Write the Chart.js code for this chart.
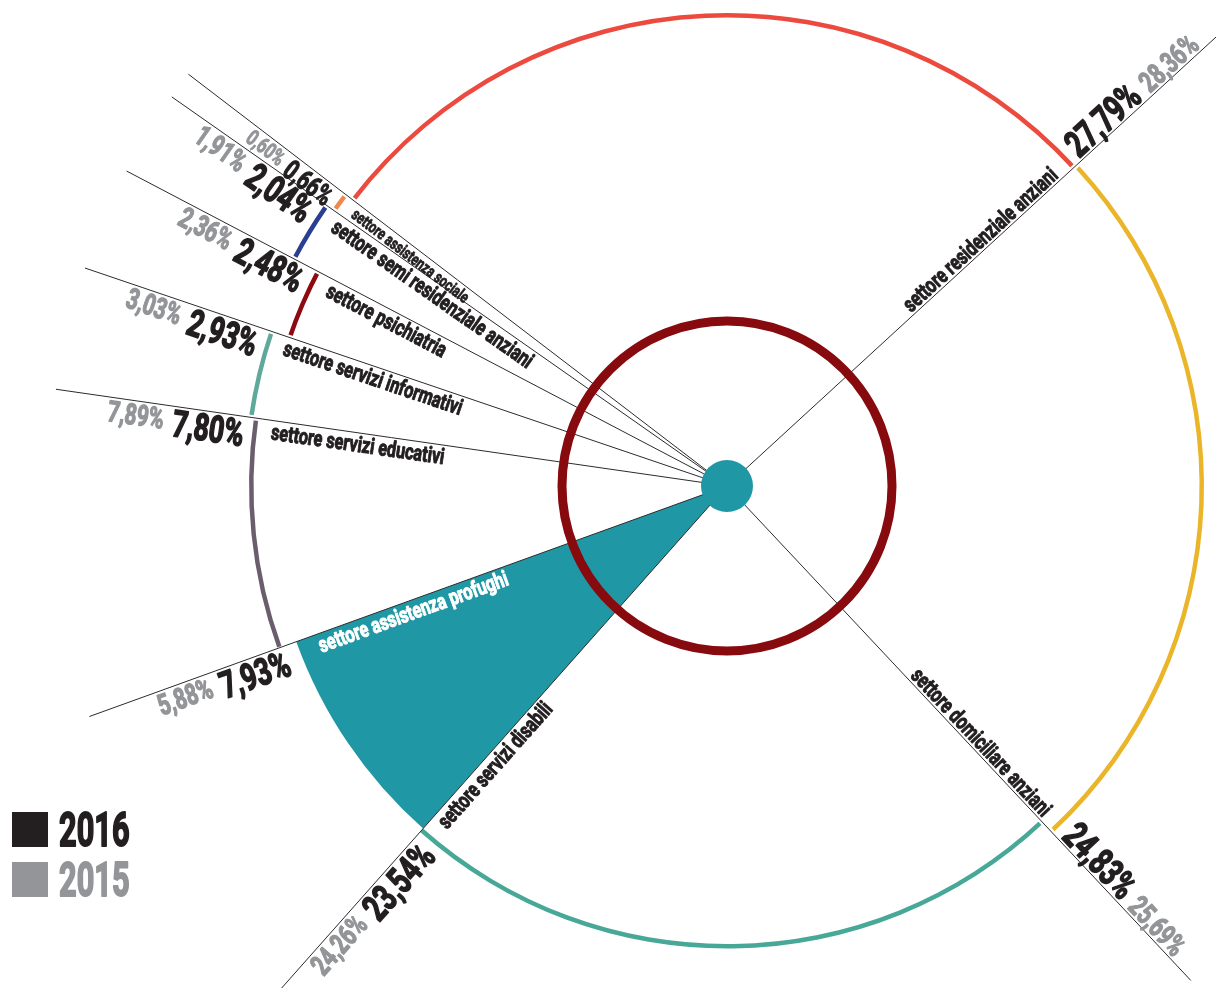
<!DOCTYPE html>
<html lang="it">
<head>
<meta charset="utf-8">
<title>Settori di attività 2016 / 2015</title>
<script src="https://cdn.jsdelivr.net/npm/chart.js@4.4.1/dist/chart.umd.min.js"></script>
<style>
    html, body { margin: 0; padding: 0; background: #ffffff; }
    #wrap { width: 1216px; height: 988px; position: relative; }
</style>
</head>
<body>
<div id="wrap"><canvas id="chart" width="1216" height="988"></canvas></div>
<script>
// sectors, clockwise starting from the top-left boundary
const sectorNames = [
    "settore residenziale anziani",
    "settore domiciliare anziani",
    "settore servizi disabili",
    "settore assistenza profughi",
    "settore servizi educativi",
    "settore servizi informativi",
    "settore psichiatria",
    "settore semi residenziale anziani",
    "settore assistenza sociale"
];
const share2016 = [27.79, 24.83, 23.54, 7.93, 7.80, 2.93, 2.48, 2.04, 0.66];
const share2015 = [28.36, 25.69, 24.26, 5.88, 7.89, 3.03, 2.36, 1.91, 0.60];
const yearLabels = ["2016", "2015"];

const sectorColors = ["#ec4a3f", "#ebb52a", "#48a898", "#1f97a4", "#6b5d6d", "#61a89c", "#8c0a10", "#2a3f91", "#f0874e"];
const yearColors = ["#231f20", "#939598"];
// small radial nudge of each outer arc (px), purely visual
const arcShift = [0, 4, 0, 0, 5, 10, -9, 18, 9];
const DISABILI = 2;
const PROFUGHI = 3;
const CLEAR = "rgba(0,0,0,0)";
const fontFamily = 'Roboto, "Liberation Sans", sans-serif';

function fmt(v) {
    return v.toFixed(2).replace(".", ",") + "%";
}

// Chart.js moves an arc by offset/4 and also grows its radius by (offset/4)*fix
function arcOffset(i) {
    const circ = share2016[i] / 100 * Math.PI * 2;
    const fix = 1 - Math.sin(Math.min(Math.PI, circ));
    return 4 * arcShift[i] / (1 + fix);
}

// condensed heavy text: squeeze horizontally and thicken with a thin stroke
function heavyText(ctx, text, color, sx, bold) {
    ctx.scale(sx, 1);
    ctx.fillStyle = color;
    ctx.strokeStyle = color;
    ctx.lineWidth = bold;
    ctx.lineJoin = "round";
    ctx.textAlign = "left";
    ctx.textBaseline = "alphabetic";
    ctx.fillText(text, 0, 0);
    ctx.strokeText(text, 0, 0);
}

// draw text along a ray from the centre; it occupies radii r..r+w (dir 1) or r-w..r (dir -1)
function textOnRay(ctx, p) {
    ctx.font = "bold " + p.size + "px " + fontFamily;
    const w = ctx.measureText(p.text).width * p.sx;
    const rA = p.dir > 0 ? p.r : p.r - w;
    const rB = rA + w;
    const flip = Math.cos(p.ang) < 0;
    ctx.save();
    ctx.translate(p.x, p.y);
    ctx.rotate(flip ? p.ang + Math.PI : p.ang);
    if (!flip) {
        ctx.translate(rA, -p.gap);
    } else {
        ctx.translate(-rB, p.gap + p.size * 0.72);
    }
    heavyText(ctx, p.text, p.color, p.sx, p.size / 22);
    ctx.restore();
    return w;
}

const sectorDecor = {
    id: "sectorDecor",
    afterDatasetsDraw(chart) {
        const ctx = chart.ctx;
        const ring = chart.getDatasetMeta(0).data;
        const inner = chart.getDatasetMeta(2).data;
        const wedge = chart.getDatasetMeta(3).data;
        const cx = ring[0].x;
        const cy = ring[0].y;
        const ringMid = (ring[0].outerRadius + ring[0].innerRadius) / 2;
        const innerMid = (inner[0].outerRadius + inner[0].innerRadius) / 2;
        const wedgeR = wedge[0].outerRadius;
        const arcR = i => (i === DISABILI ? innerMid : ringMid) + arcShift[i];

        // white gaps between neighbouring arcs
        ctx.save();
        ctx.strokeStyle = "#ffffff";
        ctx.lineWidth = 5;
        ring.forEach((arc, i) => {
            const prev = (i + ring.length - 1) % ring.length;
            if (i === PROFUGHI || prev === PROFUGHI) return;
            const r0 = Math.min(arcR(i), arcR(prev)) - 6;
            const r1 = Math.max(arcR(i), arcR(prev)) + 6;
            const a = arc.startAngle;
            ctx.beginPath();
            ctx.moveTo(cx + Math.cos(a) * r0, cy + Math.sin(a) * r0);
            ctx.lineTo(cx + Math.cos(a) * r1, cy + Math.sin(a) * r1);
            ctx.stroke();
        });

        // boundary lines
        ctx.strokeStyle = "#2b2b2b";
        ctx.lineWidth = 1;
        ring.forEach(arc => {
            const a = arc.startAngle;
            ctx.beginPath();
            ctx.moveTo(cx, cy);
            ctx.lineTo(cx + Math.cos(a) * 678, cy + Math.sin(a) * 678);
            ctx.stroke();
        });
        ctx.restore();

        // labels along the closing edge of every sector
        ring.forEach((arc, i) => {
            const f = share2016[i] < 1 ? 0.75 : 1;
            const a = arc.endAngle;
            const rName = i === PROFUGHI ? wedgeR - 20 : arcR(i) - 17;
            textOnRay(ctx, {
                x: cx, y: cy, ang: a, r: rName, dir: -1, text: sectorNames[i],
                size: 22 * f, sx: 0.74, gap: 3,
                color: i === PROFUGHI ? "#ffffff" : yearColors[0]
            });
            const rVal = i === PROFUGHI ? wedgeR + 14 : arcR(i) + 10;
            const wB = textOnRay(ctx, {
                x: cx, y: cy, ang: a, r: rVal, dir: 1, text: fmt(share2016[i]),
                size: 37 * f, sx: 0.72, gap: 3, color: yearColors[0]
            });
            textOnRay(ctx, {
                x: cx, y: cy, ang: a, r: rVal + wB + 9 * f, dir: 1, text: fmt(share2015[i]),
                size: 29 * f, sx: 0.72, gap: 3, color: yearColors[1]
            });
        });

        // inner ring and centre dot
        ctx.save();
        ctx.beginPath();
        ctx.arc(cx, cy, 165, 0, Math.PI * 2);
        ctx.lineWidth = 9;
        ctx.strokeStyle = "#870a0e";
        ctx.stroke();
        ctx.beginPath();
        ctx.arc(cx, cy, 26, 0, Math.PI * 2);
        ctx.fillStyle = sectorColors[PROFUGHI];
        ctx.fill();
        ctx.restore();

        // year legend
        yearLabels.forEach((year, k) => {
            const top = 812 + k * 50;
            ctx.save();
            ctx.fillStyle = yearColors[k];
            ctx.fillRect(12, top, 36, 35);
            ctx.font = "bold 48px " + fontFamily;
            ctx.translate(59, top + 34);
            heavyText(ctx, year, yearColors[k], 0.64, 2);
            ctx.restore();
        });
    }
};

const ringColors = sectorColors.map((c, i) => (i === DISABILI || i === PROFUGHI) ? CLEAR : c);
const innerColors = sectorColors.map((c, i) => i === DISABILI ? c : CLEAR);
const wedgeColors = sectorColors.map((c, i) => i === PROFUGHI ? c : CLEAR);

new Chart(document.getElementById("chart"), {
    type: "doughnut",
    data: {
        labels: sectorNames,
        datasets: [
            {
                label: "2016",
                data: share2016,
                backgroundColor: ringColors,
                offset: share2016.map((v, i) => arcOffset(i)),
                hoverOffset: 0,
                borderWidth: 0,
                weight: 4.5
            },
            {
                data: share2016,
                backgroundColor: CLEAR,
                hoverOffset: 0,
                borderWidth: 0,
                weight: 6
            },
            {
                data: share2016,
                backgroundColor: innerColors,
                hoverOffset: 0,
                borderWidth: 0,
                weight: 4.5
            },
            {
                data: share2016,
                backgroundColor: wedgeColors,
                hoverOffset: 0,
                borderWidth: 0,
                weight: 458
            }
        ]
    },
    options: {
        responsive: false,
        animation: false,
        events: [],
        rotation: -52.6,
        cutout: 0,
        radius: 473,
        layout: {
            padding: { left: 255, right: 17, top: 14, bottom: 30 }
        },
        plugins: {
            legend: { display: false },
            tooltip: { enabled: false }
        }
    },
    plugins: [sectorDecor]
});
</script>
</body>
</html>
